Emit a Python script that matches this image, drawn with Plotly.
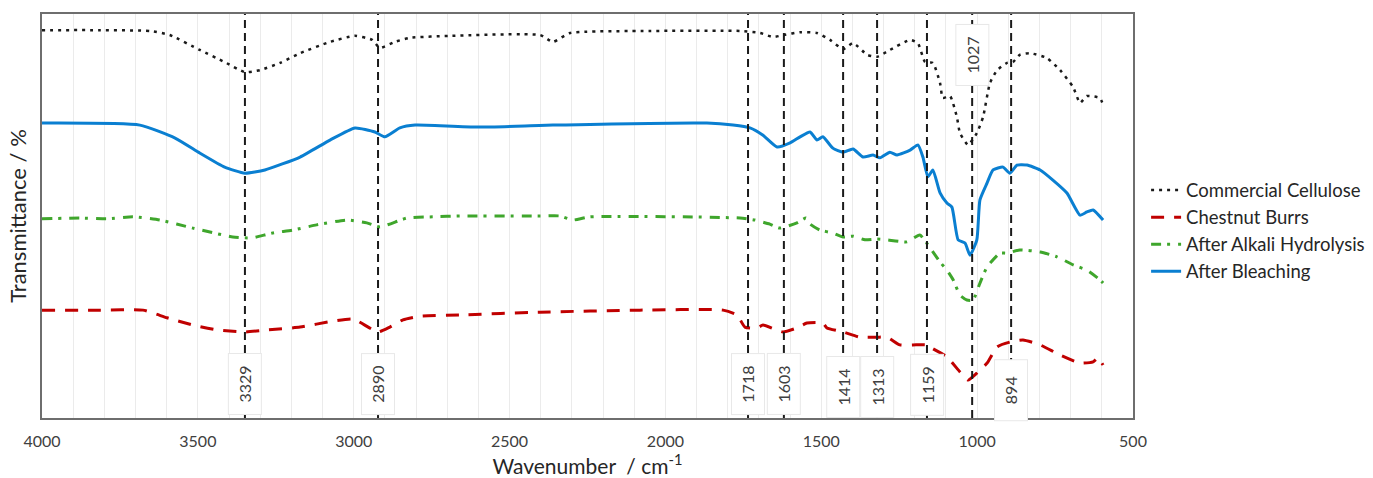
import plotly.graph_objects as go

# ---- data ----
cellulose_wn = [4000, 3814, 3654, 3590, 3494, 3414, 3349, 3301, 3236, 3172, 3076, 2996, 2941, 2916,
                2868, 2819, 2691, 2402, 2361, 2306, 2050, 1761, 1696, 1655, 1620, 1568, 1514, 1472,
                1430, 1398, 1353, 1321, 1280, 1215, 1190, 1167, 1142, 1119, 1110, 1087, 1065, 1055,
                1029, 1001, 981, 959, 936, 904, 885, 863, 830, 776, 734, 692, 670, 648, 606, 596]
cellulose_t = [96.0, 96.0, 95.8, 94.8, 91.1, 88.1, 85.6, 86.1, 87.9, 90.3, 93.1, 94.6, 93.6, 91.6,
               93.1, 94.1, 94.6, 94.8, 93.1, 95.3, 95.8, 95.8, 95.3, 94.3, 94.8, 95.5, 95.3, 93.6,
               91.3, 92.8, 89.9, 89.4, 91.1, 93.6, 92.8, 88.1, 87.9, 82.9, 79.2, 79.7, 74.5, 70.5,
               67.6, 70.5, 74.5, 82.9, 86.1, 87.9, 88.1, 89.9, 90.3, 89.1, 86.1, 81.9, 78.0, 79.7,
               79.2, 77.5]

burrs_wn = [4000, 3814, 3676, 3599, 3516, 3439, 3349, 3278, 3172, 3066, 3002, 2922, 2884, 2842,
            2787, 2659, 2402, 2082, 1815, 1770, 1745, 1706, 1687, 1623, 1578, 1546, 1495, 1482,
            1430, 1376, 1353, 1321, 1289, 1248, 1206, 1161, 1145, 1097, 1055, 1029, 1001, 968,
            936, 895, 853, 798, 734, 670, 628, 612, 596]
burrs_t = [26.7, 26.7, 26.7, 24.8, 23.0, 21.8, 21.3, 21.8, 22.5, 24.0, 24.5, 21.3, 22.5, 24.3,
           25.2, 25.5, 26.2, 26.7, 26.7, 25.5, 22.5, 22.3, 23.0, 21.3, 22.3, 23.5, 23.5, 22.3,
           21.3, 20.0, 20.0, 20.0, 20.0, 18.1, 18.1, 18.1, 17.3, 15.1, 11.4, 9.4, 11.1, 13.6,
           17.6, 18.8, 19.3, 18.1, 15.6, 13.6, 13.9, 14.9, 13.1]

alkali_wn = [4000, 3878, 3792, 3708, 3622, 3516, 3388, 3349, 3324, 3260, 3196, 3119, 3022, 2958,
             2916, 2829, 2745, 2659, 2402, 2338, 2297, 2242, 1761, 1713, 1665, 1633, 1578, 1549,
             1536, 1504, 1463, 1430, 1398, 1360, 1321, 1289, 1225, 1184, 1151, 1119, 1097, 1077,
             1055, 1033, 1013, 991, 968, 927, 904, 863, 798, 744, 692, 648, 606, 596]
alkali_t = [49.3, 49.5, 49.3, 49.8, 49.0, 47.0, 44.8, 44.6, 44.6, 45.8, 46.5, 47.8, 49.0, 48.3,
            47.3, 49.5, 49.8, 50.0, 50.0, 50.0, 49.0, 49.8, 49.5, 49.0, 48.0, 47.0, 48.3, 49.5,
            48.0, 46.5, 45.8, 44.8, 45.0, 44.1, 44.3, 44.1, 43.6, 45.3, 42.1, 38.6, 36.6, 34.2,
            30.4, 29.2, 29.2, 33.4, 37.4, 40.8, 40.8, 41.6, 41.1, 39.9, 37.9, 36.6, 34.2, 33.4]

bleach_wn = [4000, 3686, 3573, 3494, 3414, 3349, 3285, 3172, 3076, 2996, 2932, 2900, 2852, 2803,
             2595, 2361, 1867, 1783, 1729, 1687, 1642, 1600, 1568, 1536, 1514, 1495, 1463, 1430,
             1398, 1366, 1334, 1312, 1280, 1257, 1215, 1190, 1174, 1158, 1142, 1119, 1097, 1081,
             1061, 1039, 1023, 1001, 991, 968, 949, 917, 895, 872, 840, 798, 757, 712, 670, 648,
             628, 596]
bleach_t = [73.0, 72.5, 69.3, 65.6, 62.1, 60.6, 61.4, 64.6, 68.8, 71.8, 70.8, 69.6, 71.8, 72.5,
            72.0, 72.5, 73.0, 72.5, 71.8, 70.0, 67.1, 68.1, 69.6, 70.8, 68.8, 69.6, 66.8, 65.8,
            66.6, 64.6, 65.1, 64.4, 65.8, 65.1, 66.3, 67.6, 64.6, 59.7, 61.4, 55.7, 53.2, 52.2,
            44.1, 43.3, 40.3, 44.1, 54.0, 58.2, 61.4, 62.1, 60.6, 62.6, 62.6, 61.4, 58.9, 55.7,
            50.2, 51.0, 51.5, 49.0]

peak_labels = ["3329", "2890", "1718", "1603", "1414", "1313", "1159", "1027", "894"]
peak_line_wn = [3349, 2922, 1735, 1620, 1430, 1321, 1161, 1016, 891]
peak_label_y = [0.084, 0.084, 0.084, 0.084, 0.077, 0.077, 0.082, 0.899, 0.069]

FONT = "Lato"

fig = go.Figure()
series = [
    ("Commercial Cellulose", cellulose_wn, cellulose_t, "#1a1a1a", 2.5, "3px,5px"),
    ("Chestnut Burrs", burrs_wn, burrs_t, "#c00000", 3, "13px,10px"),
    ("After Alkali Hydrolysis", alkali_wn, alkali_t, "#3fa62c", 3, "10px,6px,3px,8px"),
    ("After Bleaching", bleach_wn, bleach_t, "#0a7fd1", 3, "solid"),
]
for name, x, y, col, w, dash in series:
    fig.add_trace(go.Scatter(x=x, y=y, mode="lines", name=name,
                             line=dict(color=col, width=w, dash=dash,
                                       shape="spline", smoothing=0.5)))

for wn, lab, ly in zip(peak_line_wn, peak_labels, peak_label_y):
    fig.add_shape(type="line", xref="x", yref="paper", x0=wn, x1=wn, y0=0, y1=1,
                  line=dict(color="#1a1a1a", width=2, dash="8px,5px"), layer="above")
    fig.add_annotation(x=wn, xref="x", yref="paper", y=ly, yanchor="middle",
                       text=lab, textangle=-90, showarrow=False,
                       font=dict(family=FONT, size=16, color="#404040"),
                       bgcolor="white", bordercolor="#e8e8e8", borderwidth=1,
                       width=44, height=16, borderpad=8)

fig.update_layout(
    width=1373, height=478,
    margin=dict(l=42, r=240, t=14, b=60, autoexpand=False),
    paper_bgcolor="white", plot_bgcolor="white",
    font=dict(family=FONT, color="#404040"),
    showlegend=True,
    legend=dict(x=1.012, xanchor="left", y=0.61, yanchor="top",
                font=dict(family=FONT, size=18.5, color="#262626"),
                bgcolor="rgba(0,0,0,0)", tracegroupgap=0),
    xaxis=dict(range=[4000, 500], tickmode="linear", tick0=500, dtick=500,
               automargin=False, ticklabelstandoff=8,
               showgrid=True, gridcolor="#ebebeb", gridwidth=1,
               minor=dict(dtick=100, showgrid=True, gridcolor="#ebebeb", gridwidth=1),
               showline=True, mirror=True, linecolor="#6e6e6e", linewidth=1.5,
               ticks="", zeroline=False,
               tickfont=dict(family=FONT, size=16, color="#404040"),
               title=dict(text="Wavenumber  / cm<sup>-1</sup>",
                          font=dict(family=FONT, size=21, color="#262626"), standoff=16)),
    yaxis=dict(range=[0, 100], showticklabels=False, showgrid=False, zeroline=False,
               automargin=False,
               ticks="", showline=True, mirror=True, linecolor="#6e6e6e", linewidth=1.5,
               title=dict(text="Transmittance / %",
                          font=dict(family=FONT, size=22, color="#262626"), standoff=8)),
)

fig.write_html("out.html", config={"displayModeBar": False},
               post_script="document.body.style.margin='0';document.body.style.overflow='hidden';")
